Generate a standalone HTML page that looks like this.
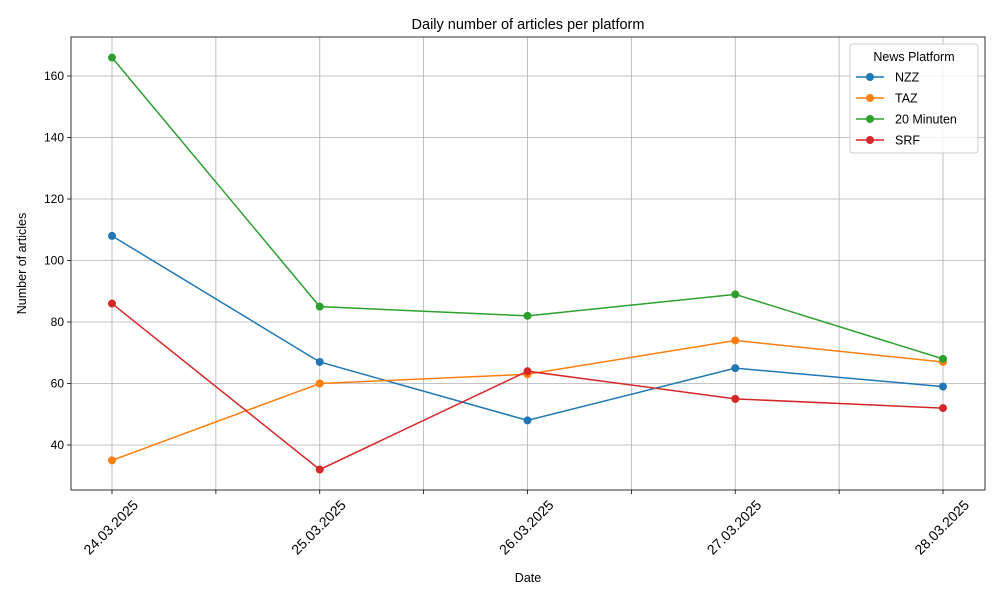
<!DOCTYPE html>
<html><head><meta charset="utf-8"><style>body{margin:0;background:#fff}svg{display:block;font-family:"Liberation Sans","DejaVu Sans",sans-serif}</style></head>
<body>
<svg id="chart" width="1000" height="600" xmlns="http://www.w3.org/2000/svg"></svg>
<script>
const categories = ["24.03.2025","25.03.2025","26.03.2025","27.03.2025","28.03.2025"];
const seriesNames = ["NZZ","TAZ","20 Minuten","SRF"];
const nzz = [108,67,48,65,59];
const taz = [35,60,63,74,67];
const minuten20 = [166,85,82,89,68];
const srf = [86,32,64,55,52];
const yTicks = [40,60,80,100,120,140,160];
const colors = ["#1f77b4","#ff7f0e","#2ca02c","#d62728"];
const series = [nzz,taz,minuten20,srf];

const svg = document.getElementById('chart');
const NS = "http://www.w3.org/2000/svg";
const L=71,R=985,T=37,B=490;
const x = i => 112 + i*207.75;
const y = v => 445 - (v-40)*3.075;
function mk(tag, attrs, parent){const e=document.createElementNS(NS,tag);for(const k in attrs)e.setAttribute(k,attrs[k]);(parent||svg).appendChild(e);return e;}

for(let h=0;h<=8;h++){
  const gx = x(h/2);
  const g = mk('line',{x1:gx,x2:gx,y1:T,y2:B,stroke:'#b0b0b0','stroke-width':0.8});
  
  
  const t = mk('line',{x1:gx,x2:gx,y1:B,y2:B+4,stroke:'#000','stroke-width':0.8});
  
  
}
yTicks.forEach(v=>{
  const g = mk('line',{x1:L,x2:R,y1:y(v),y2:y(v),stroke:'#b0b0b0','stroke-width':0.8});
  
  
  mk('line',{x1:L-4,x2:L,y1:y(v),y2:y(v),stroke:'#000','stroke-width':0.8});
  const tl = mk('text',{x:L-7,y:y(v)+4,'text-anchor':'end','font-size':12});
  tl.textContent=v;
  
  
});
categories.forEach((c,i)=>{
  const tl = mk('text',{transform:`translate(${x(i)+27},${B+16}) rotate(-45)`,'text-anchor':'end','font-size':14});
  tl.textContent=c;
  
  
});
series.forEach((s,k)=>{
  const p = mk('polyline',{points:s.map((v,i)=>x(i)+','+y(v)).join(' '),fill:'none',stroke:colors[k],'stroke-width':1.5});
  
  
  s.forEach((v,i)=>{
    const c = mk('circle',{cx:x(i),cy:y(v),r:4,fill:colors[k]});
    
    
  });
});
const fr = mk('rect',{x:L,y:T,width:R-L,height:B-T,fill:'none',stroke:'#000','stroke-width':0.8});


const tt = mk('text',{x:(L+R)/2,y:29,'text-anchor':'middle','font-size':14.5});
tt.textContent='Daily number of articles per platform';


const xt = mk('text',{x:(L+R)/2,y:582,'text-anchor':'middle','font-size':12.5});
xt.textContent='Date';


const yt = mk('text',{transform:`translate(26,${(T+B)/2}) rotate(-90)`,'text-anchor':'middle','font-size':12.5});
yt.textContent='Number of articles';


const lg = mk('g',{});


mk('rect',{x:850,y:44,width:128,height:109,rx:3,fill:'#fff','fill-opacity':0.8,stroke:'#ccc'},lg);
const lt = mk('text',{x:914,y:61,'text-anchor':'middle','font-size':12.5},lg);
lt.textContent='News Platform';
seriesNames.forEach((n,k)=>{
  const ly = 77+k*21;
  const e = mk('g',{},lg);
  
  
  mk('line',{x1:856,x2:884,y1:ly,y2:ly,stroke:colors[k],'stroke-width':1.5},e);
  mk('circle',{cx:870,cy:ly,r:4,fill:colors[k]},e);
  const t = mk('text',{x:895,y:ly+4.5,'font-size':12.5},e);
  t.textContent=n;
});
</script>
</body></html>
